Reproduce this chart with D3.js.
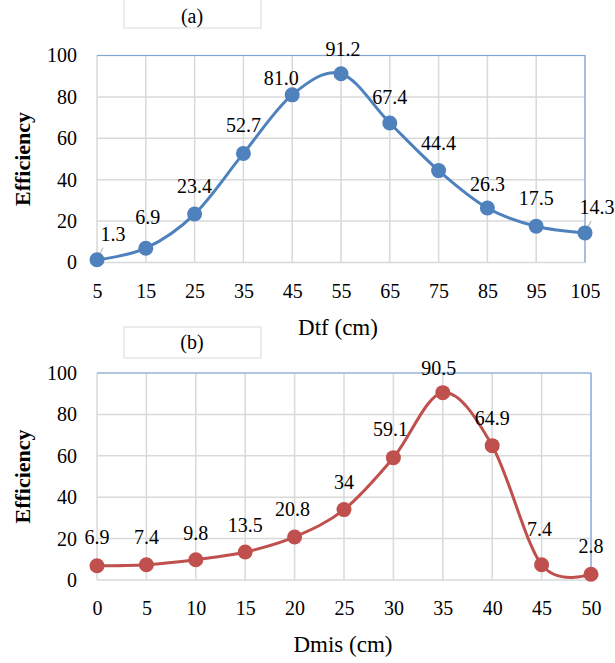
<!DOCTYPE html>
<html>
<head>
<meta charset="utf-8">
<script src="https://cdnjs.cloudflare.com/ajax/libs/d3/7.8.5/d3.min.js"></script>
<style>
  body { margin: 0; background: #fff; }
</style>
</head>
<body>
<svg id="chart" width="615" height="663"></svg>
<script>
// chart (a) data
const dtfCats = [5, 15, 25, 35, 45, 55, 65, 75, 85, 95, 105];
const dtfEff = [1.3, 6.9, 23.4, 52.7, 81.0, 91.2, 67.4, 44.4, 26.3, 17.5, 14.3];
const dtfLabels = ['1.3', '6.9', '23.4', '52.7', '81.0', '91.2', '67.4', '44.4', '26.3', '17.5', '14.3'];

// chart (b) data
const dmisCats = [0, 5, 10, 15, 20, 25, 30, 35, 40, 45, 50];
const dmisEff = [6.9, 7.4, 9.8, 13.5, 20.8, 34, 59.1, 90.5, 64.9, 7.4, 2.8];
const dmisLabels = ['6.9', '7.4', '9.8', '13.5', '20.8', '34', '59.1', '90.5', '64.9', '7.4', '2.8'];

const yTicks = [0, 20, 40, 60, 80, 100];

// label nudges (px) relative to the default spot above each marker
const dtfNudge = [[16, 2], [2, -3], [0, 0], [0, 0], [-11, 11], [2, 3], [0, 2], [0, 0], [0, 4], [0, 0], [12, 2]];
const dmisNudge = [[0, -1], [0, 0], [0, 1], [0, 1], [-2, 0], [0, 0], [-3, -1], [-4, 3], [0, 0], [-2, -8], [0, 0]];

const FONT = '"Liberation Serif", "Times New Roman", serif';
const svg = d3.select('#chart');

function drawPanel(opt) {
    const g = svg.append('g');
    const x = d3.scalePoint().domain(opt.cats).range([97, opt.right]);
    const y = d3.scaleLinear().domain([0, 100]).range([opt.bottom, opt.top]);

    // title box
    g.append('rect')
        .attr('x', 124).attr('y', opt.boxY)
        .attr('width', 137).attr('height', opt.boxH)
        .attr('fill', '#fff').attr('stroke', '#d9d9d9');
    g.append('text')
        .attr('x', 192).attr('y', opt.titleY)
        .attr('text-anchor', 'middle').attr('font-size', '20px')
        .text(opt.title);

    // gridlines
    g.append('g').selectAll('line.h')
        .data(yTicks)
        .enter().append('line')
        .attr('x1', 97).attr('x2', opt.right)
        .attr('y1', d => y(d)).attr('y2', d => y(d))
        .attr('stroke', '#d9d9d9').attr('stroke-width', 1.5);
    g.append('g').selectAll('line.v')
        .data(opt.cats)
        .enter().append('line')
        .attr('x1', d => x(d)).attr('x2', d => x(d))
        .attr('y1', opt.top).attr('y2', opt.bottom)
        .attr('stroke', '#d9d9d9').attr('stroke-width', 1.5);

    // plot border top / right
    g.append('path')
        .attr('d', `M97,${opt.top}H${opt.right}V${opt.bottom}`)
        .attr('fill', 'none').attr('stroke', '#7fa7dd').attr('stroke-width', 1.2);

    // axes
    const yAxis = g.append('g')
        .attr('transform', 'translate(97,0)')
        .call(d3.axisLeft(y).tickValues(yTicks).tickSize(0).tickPadding(20));
    yAxis.select('.domain').remove();
    yAxis.selectAll('text').attr('font-size', '20px');

    const xAxis = g.append('g')
        .attr('transform', `translate(0,${opt.bottom})`)
        .call(d3.axisBottom(x).tickSize(0).tickPadding(21));
    xAxis.select('.domain').remove();
    xAxis.selectAll('text').attr('font-size', '20px');

    // axis titles
    g.append('text')
        .attr('x', opt.xTitleX).attr('y', opt.bottom + 72)
        .attr('text-anchor', 'middle').attr('font-size', '23px')
        .text(opt.xTitle);
    g.append('text')
        .attr('transform', `translate(30,${(opt.top + opt.bottom) / 2}) rotate(-90)`)
        .attr('text-anchor', 'middle').attr('font-size', '22px').attr('font-weight', 'bold')
        .text('Efficiency');

    // leader lines for nudged end labels
    opt.leaders.forEach(i => {
        const px = x(opt.cats[i]), py = y(opt.vals[i]);
        g.append('line')
            .attr('x1', px).attr('y1', py)
            .attr('x2', px + 6).attr('y2', py - 12)
            .attr('stroke', '#bfbfbf').attr('stroke-width', 1.2);
    });

    // line + markers
    const pts = opt.cats.map((c, i) => [x(c), y(opt.vals[i])]);
    g.append('path')
        .datum(pts)
        .attr('d', d3.line().curve(d3.curveCardinal.tension(0)))
        .attr('fill', 'none').attr('stroke', opt.color).attr('stroke-width', 3);
    g.append('g').selectAll('circle')
        .data(pts)
        .enter().append('circle')
        .attr('cx', d => d[0]).attr('cy', d => d[1])
        .attr('r', 7.5).attr('fill', opt.color);

    // data labels
    g.append('g').selectAll('text')
        .data(opt.labels)
        .enter().append('text')
        .attr('x', (d, i) => pts[i][0] + opt.nudge[i][0])
        .attr('y', (d, i) => pts[i][1] - 21 + opt.nudge[i][1])
        .attr('text-anchor', 'middle').attr('font-size', '20px')
        .text(d => d);

    g.selectAll('text').style('font-family', FONT).style('fill', '#000');
}

drawPanel({
    cats: dtfCats, vals: dtfEff, labels: dtfLabels, nudge: dtfNudge,
    right: 585, top: 55.5, bottom: 262.5,
    color: '#4f81bd', title: '(a)', boxY: -10, boxH: 38, titleY: 23,
    xTitle: 'Dtf (cm)', xTitleX: 338, leaders: [0, 10]
});

drawPanel({
    cats: dmisCats, vals: dmisEff, labels: dmisLabels, nudge: dmisNudge,
    right: 591, top: 373, bottom: 580,
    color: '#c0504d', title: '(b)', boxY: 327, boxH: 31, titleY: 349,
    xTitle: 'Dmis (cm)', xTitleX: 343, leaders: []
});
</script>
</body>
</html>
